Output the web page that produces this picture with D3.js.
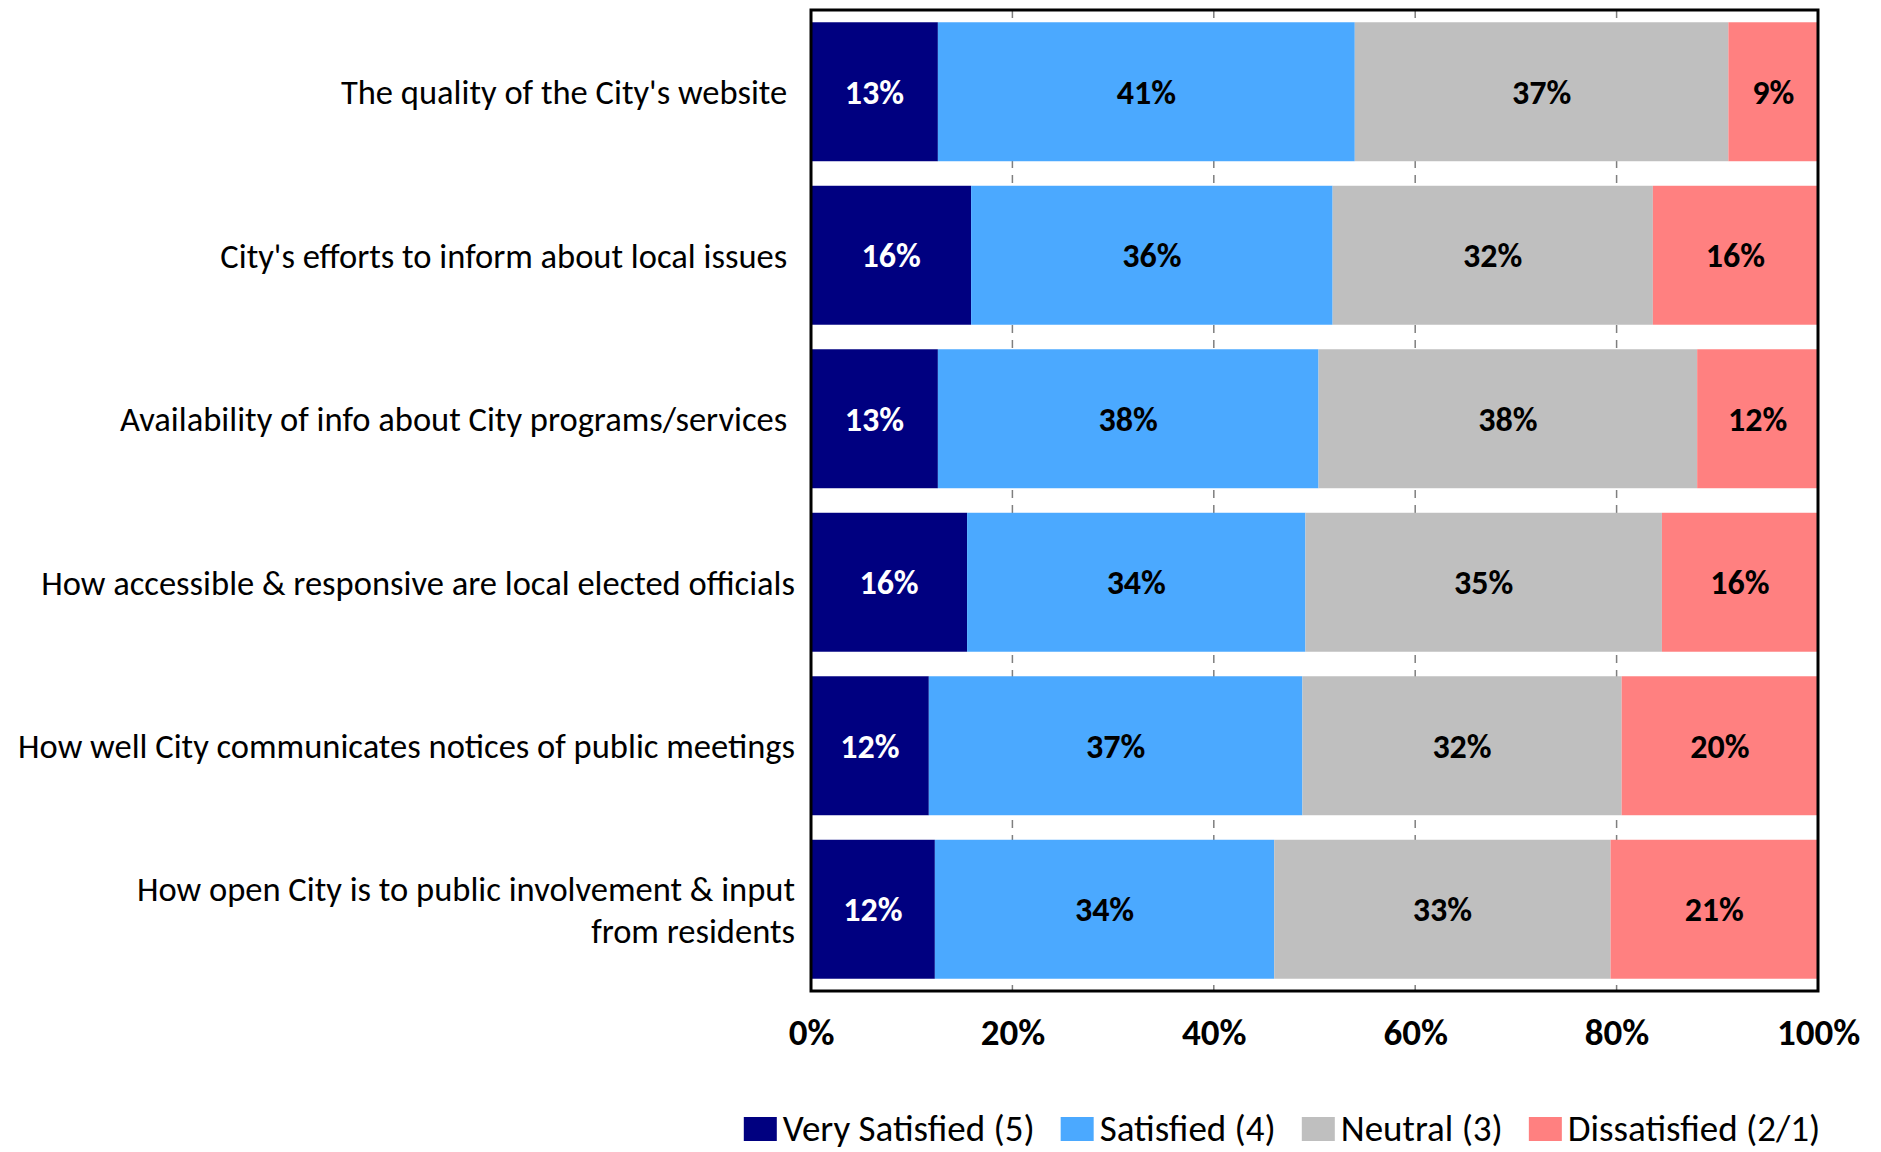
<!DOCTYPE html>
<html>
<head>
<meta charset="utf-8">
<script src="https://cdn.jsdelivr.net/npm/d3@7"></script>
<style>
  html, body { margin: 0; padding: 0; background: #ffffff; }
  svg { display: block; }
  text { font-family: Calibri, Carlito, Lato, sans-serif; white-space: pre; }
</style>
</head>
<body>
<svg id="chart" width="1881" height="1152"></svg>
<script>
// Survey items (top to bottom). Some labels keep their trailing space.
const categories = [
  "The quality of the City's website ",
  "City's efforts to inform about local issues ",
  "Availability of info about City programs/services ",
  "How accessible & responsive are local elected officials",
  "How well City communicates notices of public meetings",
  "How open City is to public involvement & input\nfrom residents"
];

const seriesNames = ["Very Satisfied (5)", "Satisfied (4)", "Neutral (3)", "Dissatisfied (2/1)"];

// Share of respondents (%) per rating, one array per series, in category order
const verySatisfied = [12.6, 15.9, 12.6, 15.5, 11.7, 12.3];
const satisfied     = [41.4, 35.9, 37.8, 33.6, 37.1, 33.7];
const neutral       = [37.1, 31.8, 37.6, 35.4, 31.7, 33.4];
const dissatisfied  = [ 8.9, 16.4, 12.0, 15.5, 19.5, 20.6];

const xTicks = [0, 20, 40, 60, 80, 100];

const colors = ["#000080", "#4BA9FF", "#BFBFBF", "#FF8080"];
const labelColors = ["#ffffff", "#000000", "#000000", "#000000"];

// Build row records for the stack layout
const keys = ["vs", "s", "n", "d"];
const seriesArrays = [verySatisfied, satisfied, neutral, dissatisfied];
const rows = categories.map((c, i) => {
  const r = { category: c };
  keys.forEach((k, j) => { r[k] = seriesArrays[j][i]; });
  return r;
});

const svg = d3.select("#chart");
const plot = { left: 811, right: 1818, top: 10, bottom: 991 };

const x = d3.scaleLinear().domain([0, 100]).range([plot.left, plot.right]);
const y = d3.scaleBand()
  .domain(categories)
  .range([plot.top, plot.bottom])
  .paddingInner(0.15)
  .paddingOuter(0.075);

const stacked = d3.stack().keys(keys)(rows);

// Dashed vertical gridlines behind the bars
svg.append("g")
  .attr("class", "grid")
  .selectAll("line")
  .data(xTicks.filter(t => t > 0 && t < 100))
  .join("line")
  .attr("x1", d => x(d)).attr("x2", d => x(d))
  .attr("y1", plot.top).attr("y2", plot.bottom)
  .attr("stroke", "#7f7f7f")
  .attr("stroke-width", 1.5)
  .attr("stroke-dasharray", "8,7");

// Stacked bars
const layers = svg.append("g").attr("class", "bars")
  .selectAll("g")
  .data(stacked)
  .join("g")
  .attr("fill", (d, i) => colors[i]);

layers.selectAll("rect")
  .data(d => d)
  .join("rect")
  .attr("x", d => x(d[0]))
  .attr("y", d => y(d.data.category))
  .attr("width", d => x(d[1]) - x(d[0]))
  .attr("height", y.bandwidth());

// Value labels centred in each segment
const fmt = v => d3.format(".0f")(v) + "%";
svg.append("g").attr("class", "values")
  .selectAll("g")
  .data(stacked)
  .join("g")
  .attr("fill", (d, i) => labelColors[i])
  .selectAll("text")
  .data(d => d.map(p => ({ p, key: d.key })))
  .join("text")
  .attr("x", d => x((d.p[0] + d.p[1]) / 2))
  .attr("y", d => y(d.p.data.category) + y.bandwidth() / 2)
  .attr("dy", "0.36em")
  .attr("text-anchor", "middle")
  .attr("font-size", 34)
  .attr("font-weight", "bold")
  .text(d => fmt(d.p.data[d.key]));

// Plot frame
svg.append("rect")
  .attr("x", plot.left).attr("y", plot.top)
  .attr("width", plot.right - plot.left)
  .attr("height", plot.bottom - plot.top)
  .attr("fill", "none")
  .attr("stroke", "#000")
  .attr("stroke-width", 3);

// Bottom axis labels
const xAxis = d3.axisBottom(x)
  .tickValues(xTicks)
  .tickSize(0)
  .tickPadding(0)
  .tickFormat(d => d + "%");

const gx = svg.append("g")
  .attr("transform", `translate(0, 1032)`)
  .call(xAxis);
gx.select(".domain").remove();
gx.selectAll("text")
  .attr("dy", "0.36em")
  .attr("y", 0)
  .attr("font-size", 37)
  .attr("font-weight", "bold")
  .attr("fill", "#000")
  .style("font-family", "Calibri, Carlito, Lato, sans-serif");

// Category labels, right aligned, wrapped on newlines
const lineHeight = 42;
const catG = svg.append("g").attr("class", "categories");
categories.forEach(c => {
  const lines = c.split("\n");
  const cy = y(c) + y.bandwidth() / 2;
  const t = catG.append("text")
    .attr("text-anchor", "end")
    .attr("font-size", 34.5)
    .attr("fill", "#000");
  lines.forEach((ln, i) => {
    t.append("tspan")
      .attr("x", 795)
      .attr("y", cy + (i - (lines.length - 1) / 2) * lineHeight)
      .attr("dy", "0.36em")
      .text(ln);
  });
});

// Legend along the bottom
const legend = svg.append("g").attr("class", "legend");
const swW = 33, swH = 24, swGap = 6, itemGap = 26;
const legendBaseline = 1141;
let cursor = 0;
seriesNames.forEach((name, i) => {
  const g = legend.append("g");
  g.append("rect")
    .attr("x", 0).attr("y", legendBaseline - swH)
    .attr("width", swW).attr("height", swH)
    .attr("fill", colors[i]);
  const t = g.append("text")
    .attr("x", swW + swGap)
    .attr("y", legendBaseline)
    .attr("font-size", 37)
    .attr("fill", "#000")
    .text(name);
  const w = swW + swGap + t.node().getComputedTextLength();
  g.attr("transform", `translate(${cursor},0)`);
  cursor += w + itemGap;
});
const legendWidth = cursor - itemGap;
legend.attr("transform", `translate(${1282 - legendWidth / 2},0)`);
</script>
</body>
</html>
